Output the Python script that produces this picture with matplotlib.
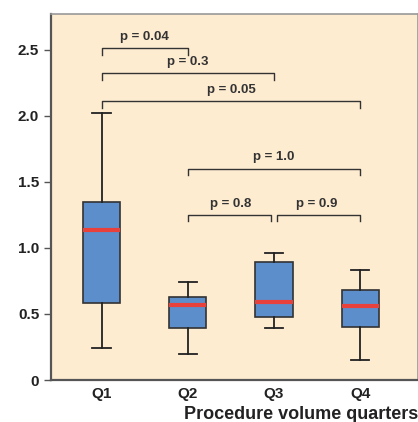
import numpy as np
import matplotlib.pyplot as plt

# box statistics
groups = ['Q1', 'Q2', 'Q3', 'Q4']
whislo = [0.245, 0.195, 0.39, 0.15]
q1 = [0.58, 0.39, 0.475, 0.404]
med = [1.136, 0.566, 0.59, 0.563]
q3 = [1.346, 0.63, 0.894, 0.68]
whishi = [2.02, 0.745, 0.96, 0.836]

# significance brackets: (left group, right group, height, label)
br_left = [1, 1, 1, 2, 2, 3]
br_right = [2, 3, 4, 4, 3, 4]
br_y = [2.51, 2.32, 2.11, 1.60, 1.25, 1.25]
br_text = ['p = 0.04', 'p = 0.3', 'p = 0.05', 'p = 1.0', 'p = 0.8', 'p = 0.9']

plt.rcParams['font.family'] = ['Liberation Sans', 'DejaVu Sans']

fig = plt.figure(figsize=(4.18, 4.22), dpi=100)
ax = fig.add_axes([51/418, 1 - 380/422, 367/418, 366/422])
ax.set_facecolor('#feecd1')

stats = []
for i in range(4):
    stats.append({'label': groups[i], 'whislo': whislo[i], 'q1': q1[i], 'med': med[i],
                  'q3': q3[i], 'whishi': whishi[i], 'fliers': []})

ax.bxp(stats, positions=[1, 2, 3, 4], widths=0.43, patch_artist=True, showfliers=False,
       boxprops=dict(facecolor='#5b8ecb', edgecolor='#333333', linewidth=1.2),
       medianprops=dict(color='#e8403a', linewidth=3),
       whiskerprops=dict(color='#222222', linewidth=1.3),
       capprops=dict(color='#222222', linewidth=1.3), capwidths=0.21)

for a, b, y, t in zip(br_left, br_right, br_y, br_text):
    xa, xb = a, b
    if t == 'p = 0.8':
        xb = b - 0.03
    if t == 'p = 0.9':
        xa = a + 0.03
    ax.plot([xa, xa, xb, xb], [y - 0.05, y, y, y - 0.05], color='#333333', lw=1)
    ax.text((a + b) / 2, y + 0.04, t, ha='center', va='bottom', fontsize=9.5,
            color='#333333', fontweight='bold')

ax.set_xlim(0.414, 4.67)
ax.set_ylim(0, 2.77)
ax.set_yticks([0, 0.5, 1.0, 1.5, 2.0, 2.5])
ax.set_yticklabels(['0', '0.5', '1.0', '1.5', '2.0', '2.5'])
ax.set_xticks([1, 2, 3, 4])
ax.set_xticklabels(groups)
ax.tick_params(axis='y', length=5, width=1, color='#555555', labelsize=11, labelcolor='#222222')
ax.tick_params(axis='x', length=0, labelsize=11, labelcolor='#222222', pad=5)
for t in ax.get_xticklabels() + ax.get_yticklabels():
    t.set_fontweight('bold')

for s in ['left', 'bottom']:
    ax.spines[s].set_color('#555555')
    ax.spines[s].set_linewidth(1.6)
for s in ['top', 'right']:
    ax.spines[s].set_color('#999999')
    ax.spines[s].set_linewidth(1.2)

fig.text(1.0, 1 - 419/422, 'Procedure volume quarters', ha='right', va='baseline',
         fontsize=13, fontweight='bold', color='#222222')
# title sits above the image, only its descenders show at the top edge
fig.text(51/418, 1 + 2.5/422, 'Complication rate per procedure (%)', ha='left', va='baseline',
         fontsize=12, fontweight='bold', color='#222222')

fig.savefig('out.png', dpi=100)
